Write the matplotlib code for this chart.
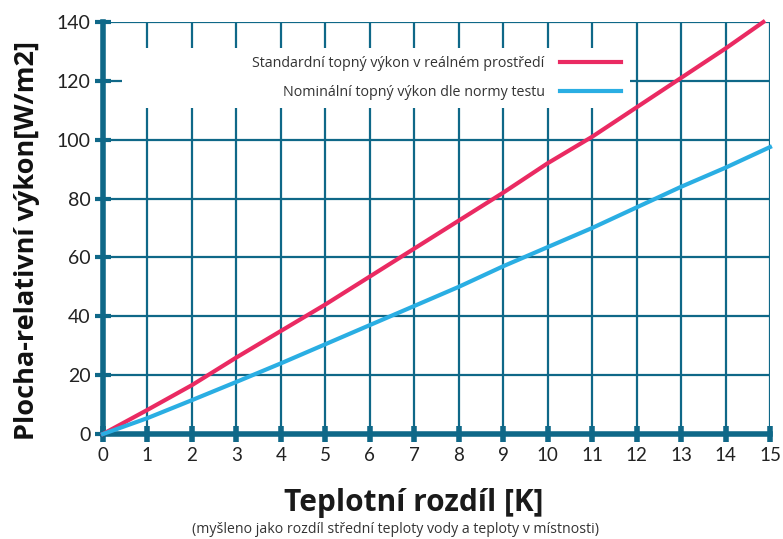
import matplotlib.pyplot as plt
from matplotlib.patches import Rectangle

# values
dt = [0, 1, 2, 3, 4, 5, 6, 7, 8, 9, 10, 11, 12, 13, 14, 14.85]
standard = [0, 8.2, 16.6, 26, 35, 44, 53.5, 63, 72.5, 82, 92, 101, 111, 121, 131, 140]
dt_nom = [0, 1, 2, 3, 4, 5, 6, 7, 8, 9, 10, 11, 12, 13, 14, 15]
nominal = [0, 5.4, 11.5, 17.7, 24, 30.5, 37, 43.5, 50, 57, 63.5, 70, 77, 84, 90.5, 97.5]

x_ticks = list(range(0, 16))
y_ticks = list(range(0, 141, 20))

teal = '#0f6888'
red = '#ea2a62'
blue = '#2aaee3'

fig = plt.figure(figsize=(7.83, 5.39), dpi=100)
ax = fig.add_axes([0.1315, 0.1948, 0.8519, 0.7644])

ax.set_xlim(0, 15)
ax.set_ylim(0, 140)
ax.set_xticks(x_ticks)
ax.set_yticks(y_ticks)
ax.grid(True, color=teal, linewidth=1.6, zorder=0)
ax.set_axisbelow(True)

for s in ['top', 'right']:
    ax.spines[s].set_visible(False)
for s in ['left', 'bottom']:
    ax.spines[s].set_color(teal)
    ax.spines[s].set_linewidth(4)

ax.tick_params(axis='x', direction='inout', length=11, width=4, color=teal,
               labelsize=13.5, labelcolor='#222222', pad=4)
ax.tick_params(axis='y', direction='inout', length=12, width=3, color=teal,
               labelsize=14, labelcolor='#222222', pad=3)
for lab in ax.get_xticklabels() + ax.get_yticklabels():
    lab.set_family('Lato')

# white area behind the legend that interrupts the grid
ax.add_patch(Rectangle((0.43, 110.8), 11.42, 20.4, facecolor='white',
                       edgecolor='none', zorder=1))

ax.plot(dt, standard, color=red, linewidth=3, zorder=3,
        label='Standardní topný výkon v reálném prostředí', clip_on=False)
ax.plot(dt_nom, nominal, color=blue, linewidth=3, zorder=3,
        label='Nominální topný výkon dle normy testu', clip_on=False)

leg = ax.legend(loc='center', bbox_to_anchor=(0.50, 0.864), markerfirst=False,
                frameon=False, fontsize=10.3, handlelength=4.2, handletextpad=1.1,
                labelspacing=0.95)
for t in leg.get_texts():
    t.set_family('Open Sans')
    t.set_color('#333333')

fig.text(0.034, 0.553, 'Plocha-relativní výkon[W/m2]', rotation=90, ha='center',
         va='center', fontsize=19.5, fontweight='bold', family='Open Sans',
         color='#111111')
fig.text(0.528, 0.067, 'Teplotní rozdíl [K]', ha='center', va='center',
         fontsize=21.5, fontweight='bold', family='Open Sans', color='#1a1a1a')
fig.text(0.505, 0.003, '(myšleno jako rozdíl střední teploty vody a teploty v místnosti)',
         ha='center', va='bottom', fontsize=10.2, family='Open Sans', color='#333333')

fig.savefig('out.png', dpi=100)
